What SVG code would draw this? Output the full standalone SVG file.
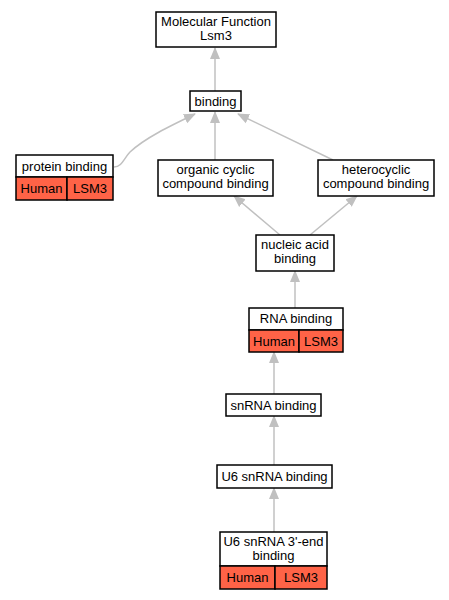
<svg xmlns="http://www.w3.org/2000/svg" width="449" height="600" viewBox="0 0 449 600">
<style>
text{font-family:"Liberation Sans",Arial,sans-serif;font-size:13px;fill:#000;text-anchor:middle}
.box{fill:#fff;stroke:#000;stroke-width:1.5}
.red{fill:#ff6347;stroke:#000;stroke-width:1.5}
.e{fill:none;stroke:#c0c0c0;stroke-width:1.5}
</style>
<defs>
<marker id="ah" markerWidth="12" markerHeight="12" refX="11" refY="5" orient="auto" markerUnits="userSpaceOnUse" viewBox="0 0 12 10">
<path d="M0,0 L12,5 L0,10 Z" fill="#c0c0c0"/>
</marker>
</defs>
<rect width="449" height="600" fill="#fff"/>
<g id="edges">
<path class="e" d="M215,91 L215,48" marker-end="url(#ah)"/>
<path class="e" d="M215,160 L215,112" marker-end="url(#ah)"/>
<path class="e" d="M333,160 L238,114" marker-end="url(#ah)"/>
<path class="e" d="M114,167 C122,167 124,158 130,152 C145,138 170,126 195,114" marker-end="url(#ah)"/>
<path class="e" d="M280,235 L234,196" marker-end="url(#ah)"/>
<path class="e" d="M310,235 L357,196" marker-end="url(#ah)"/>
<path class="e" d="M295,308 L295,271" marker-end="url(#ah)"/>
<path class="e" d="M274,394 L274,352" marker-end="url(#ah)"/>
<path class="e" d="M274,465 L274,416" marker-end="url(#ah)"/>
<path class="e" d="M274,532 L274,488" marker-end="url(#ah)"/>
</g>
<g id="mf">
<rect class="box" x="156" y="12" width="120" height="35"/>
<text x="216" y="26">Molecular Function</text>
<text x="216" y="40">Lsm3</text>
</g>
<g id="binding">
<rect class="box" x="190" y="91" width="51" height="20"/>
<text x="215.5" y="105.5">binding</text>
</g>
<g id="protein">
<rect class="box" x="16" y="155" width="97" height="22"/>
<text x="64.5" y="170.5">protein binding</text>
<rect class="red" x="16" y="177" width="51" height="23"/>
<rect class="red" x="67" y="177" width="46" height="23"/>
<text x="41.5" y="193">Human</text>
<text x="90" y="193">LSM3</text>
</g>
<g id="organic">
<rect class="box" x="158" y="160" width="115" height="36"/>
<text x="215.5" y="174">organic cyclic</text>
<text x="215.5" y="188">compound binding</text>
</g>
<g id="hetero">
<rect class="box" x="318" y="160" width="116" height="36"/>
<text x="376" y="174">heterocyclic</text>
<text x="376" y="188">compound binding</text>
</g>
<g id="nucleic">
<rect class="box" x="256" y="235" width="78" height="36"/>
<text x="295" y="249">nucleic acid</text>
<text x="295" y="263">binding</text>
</g>
<g id="rna">
<rect class="box" x="249" y="308" width="94" height="22"/>
<text x="296" y="323">RNA binding</text>
<rect class="red" x="249" y="330" width="50" height="22"/>
<rect class="red" x="299" y="330" width="44" height="22"/>
<text x="274" y="345.5">Human</text>
<text x="321" y="345.5">LSM3</text>
</g>
<g id="snrna">
<rect class="box" x="226" y="394" width="95" height="22"/>
<text x="273.5" y="409.5">snRNA binding</text>
</g>
<g id="u6">
<rect class="box" x="217" y="465" width="115" height="23"/>
<text x="274.5" y="481">U6 snRNA binding</text>
</g>
<g id="u6end">
<rect class="box" x="220" y="532" width="107" height="34"/>
<text x="273.5" y="546">U6 snRNA 3'-end</text>
<text x="273.5" y="560">binding</text>
<rect class="red" x="220" y="566" width="55" height="23"/>
<rect class="red" x="275" y="566" width="52" height="23"/>
<text x="247.5" y="582">Human</text>
<text x="301" y="582">LSM3</text>
</g>
</svg>
